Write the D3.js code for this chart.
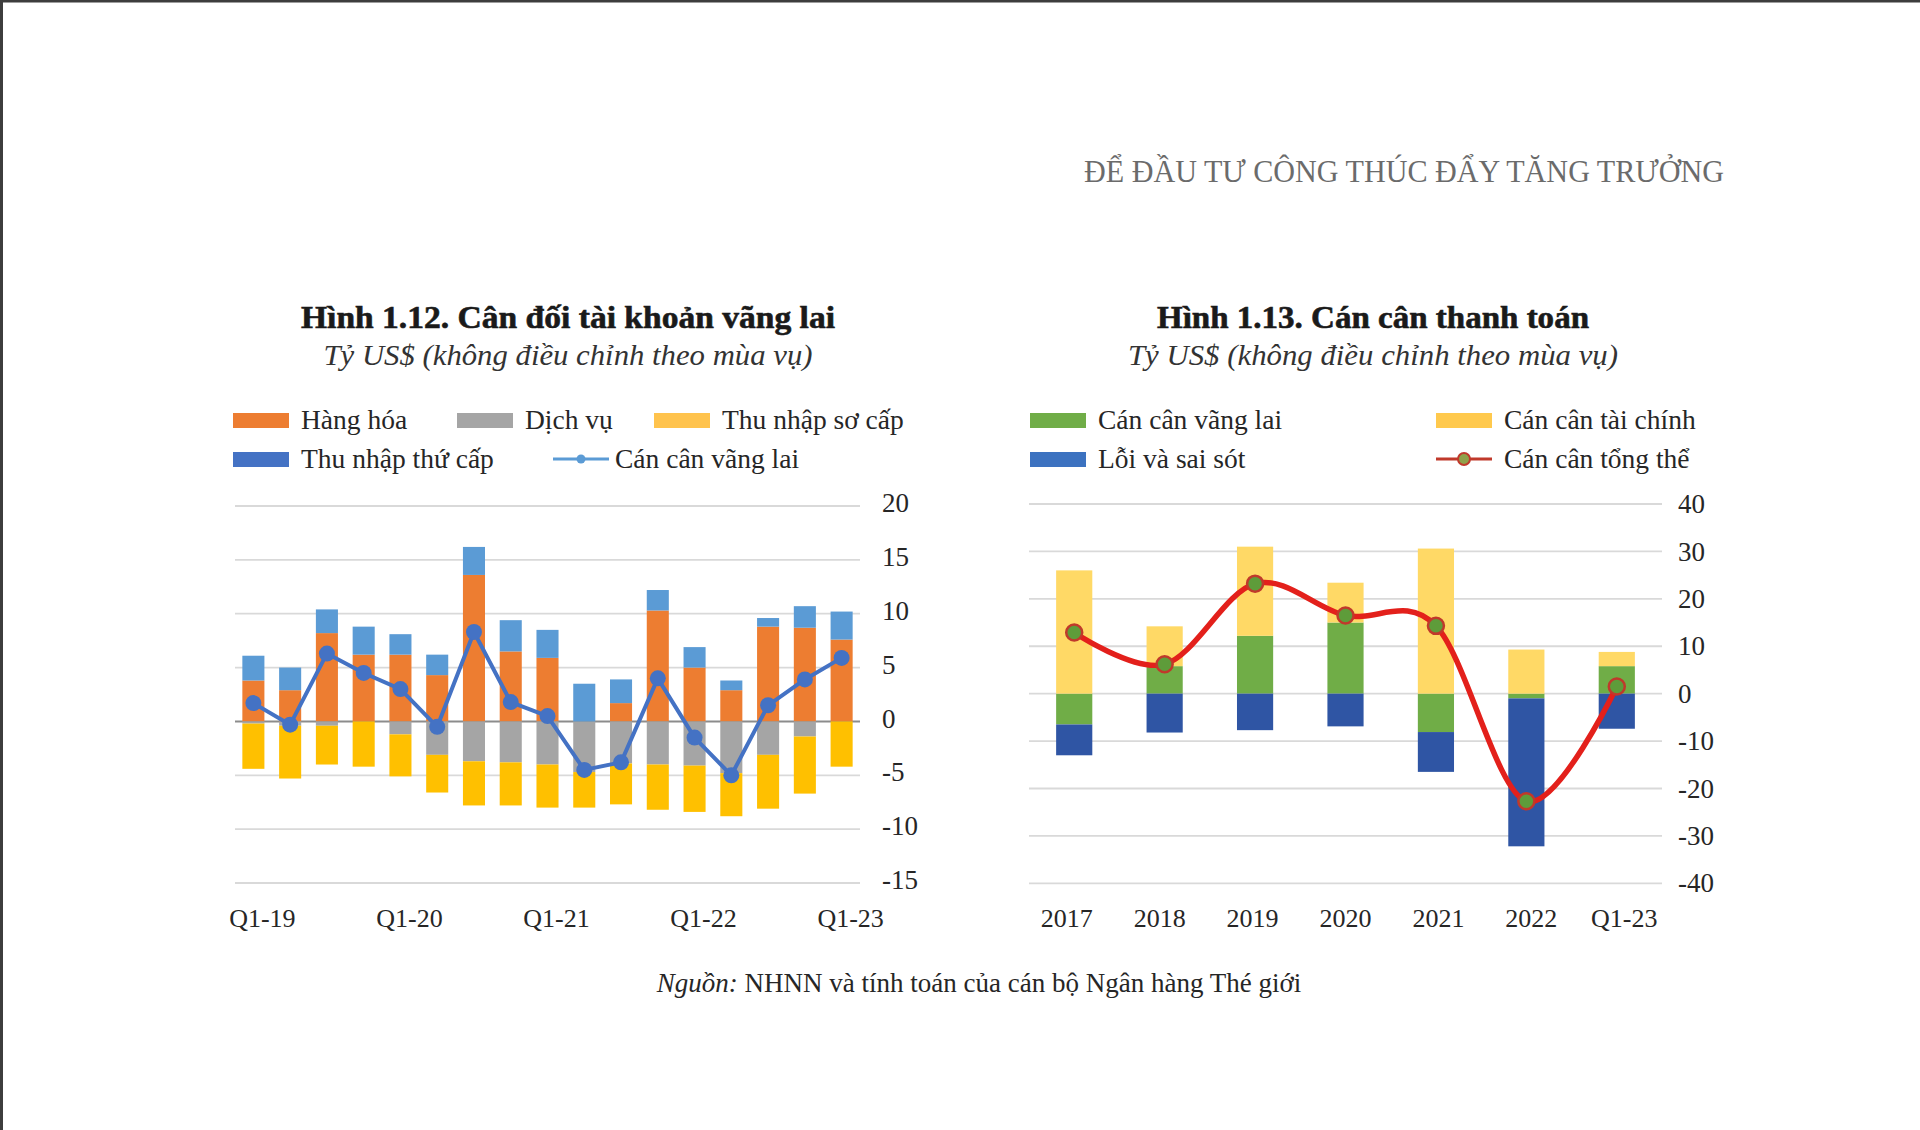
<!DOCTYPE html>
<html><head><meta charset="utf-8">
<script src="https://cdn.jsdelivr.net/npm/d3@7"></script>
<style>
html,body{margin:0;padding:0;background:#fff;}
svg{display:block;}
text{font-family:"Liberation Serif","DejaVu Serif",serif;fill:#262626;}
</style></head>
<body>
<svg id="c" width="1920" height="1130"></svg>
<script>
// ---------- Data: Hình 1.12 ----------
const quarters = ["Q1-19","Q2-19","Q3-19","Q4-19","Q1-20","Q2-20","Q3-20","Q4-20","Q1-21","Q2-21","Q3-21","Q4-21","Q1-22","Q2-22","Q3-22","Q4-22","Q1-23"];
const quarterTicks = ["Q1-19","Q1-20","Q1-21","Q1-22","Q1-23"];
const goods      = [3.8, 2.9, 8.2, 6.2, 6.2, 4.3, 13.6, 6.5, 5.9, 0.0, 1.7, 10.3, 5.0, 2.9, 8.8, 8.7, 7.6];
const services   = [-0.2, -0.4, -0.4, 0.0, -1.2, -3.1, -3.7, -3.8, -4.0, -4.7, -3.9, -4.0, -4.1, -4.8, -3.1, -1.4, 0.0];
const primaryInc = [-4.2, -4.9, -3.6, -4.2, -3.9, -3.5, -4.1, -4.0, -4.0, -3.3, -3.8, -4.2, -4.3, -4.0, -5.0, -5.3, -4.2];
const secondaryInc = [2.3, 2.1, 2.2, 2.6, 1.9, 1.9, 2.6, 2.9, 2.6, 3.5, 2.2, 1.9, 1.9, 0.9, 0.8, 2.0, 2.6];
const currentAccountQ = [1.7, -0.3, 6.3, 4.5, 3.0, -0.5, 8.3, 1.8, 0.5, -4.5, -3.8, 4.0, -1.5, -5.0, 1.5, 3.9, 5.9];
const leftTicks = [20, 15, 10, 5, 0, -5, -10, -15];

// ---------- Data: Hình 1.13 ----------
const periods = ["2017","2018","2019","2020","2021","2022","Q1-23"];
const currentAccountY = [-6.5, 5.8, 12.2, 15.0, -8.1, -1.0, 5.8];
const financialAcc    = [26.0, 8.4, 18.8, 8.4, 30.6, 9.3, 3.0];
const errorsOmissions = [-6.5, -8.2, -7.7, -6.9, -8.4, -31.2, -7.4];
const overallBalance  = [12.9, 6.2, 23.2, 16.5, 14.3, -22.7, 1.5];
const rightTicks = [40, 30, 20, 10, 0, -10, -20, -30, -40];

const svg = d3.select("#c");
const plain = d => String(d);

// page frame
svg.append("rect").attr("x",0).attr("y",0).attr("width",1920).attr("height",2.5).attr("fill","#3d3d3d");
svg.append("rect").attr("x",0).attr("y",0).attr("width",3).attr("height",1130).attr("fill","#3d3d3d");

// header
svg.append("text").attr("x",1724).attr("y",182).attr("text-anchor","end")
  .attr("font-size",31).style("fill","#6b6b6b")
  .attr("textLength",640).attr("lengthAdjust","spacingAndGlyphs")
  .text("ĐỂ ĐẦU TƯ CÔNG THÚC ĐẨY TĂNG TRƯỞNG");

function titles(g, cx, title, tw, sub, sw){
  g.append("text").attr("x",cx).attr("y",328).attr("text-anchor","middle")
    .attr("font-size",31).attr("font-weight","bold").style("fill","#1a1a1a")
    .style("stroke","#1a1a1a").style("stroke-width",0.6)
    .attr("textLength",tw).attr("lengthAdjust","spacingAndGlyphs")
    .text(title);
  g.append("text").attr("x",cx).attr("y",365).attr("text-anchor","middle")
    .attr("font-size",30).attr("font-style","italic").style("fill","#333")
    .attr("textLength",sw).attr("lengthAdjust","spacingAndGlyphs")
    .text(sub);
}

// =============== LEFT CHART ===============
(function(){
  const x = d3.scaleBand().domain(quarters).range([235, 860]).paddingInner(0.4).paddingOuter(0.2);
  const y = d3.scaleLinear().domain([-15, 20]).range([883, 506]);
  const keys = ["goods","services","primary","secondary"];
  const colors = {goods:"#ED7D31", services:"#A5A5A5", primary:"#FFC000", secondary:"#5B9BD5"};
  const rows = quarters.map((q,i)=>({q, goods:goods[i], services:services[i], primary:primaryInc[i], secondary:secondaryInc[i]}));
  const stack = d3.stack().keys(keys).offset(d3.stackOffsetDiverging)(rows);

  const g = svg.append("g");
  titles(g, 568, "Hình 1.12. Cân đối tài khoản vãng lai", 534, "Tỷ US$ (không điều chỉnh theo mùa vụ)", 489);

  const grid = g.append("g");
  grid.selectAll("line").data(leftTicks).join("line")
    .attr("x1",235).attr("x2",860)
    .attr("y1",d=>y(d)).attr("y2",d=>y(d))
    .attr("stroke",d=>d===0?"#8c8c8c":"#d9d9d9").attr("stroke-width",d=>d===0?2:1.8);
  const yAxis = d3.axisRight(y).tickValues(leftTicks).tickFormat(plain).tickSize(0).tickPadding(0);
  const ya = g.append("g").attr("transform","translate(882,-3)").call(yAxis);
  ya.select(".domain").remove();
  ya.selectAll("text").attr("font-size",27).attr("font-family","Liberation Serif").style("fill","#262626");

  g.append("g").selectAll("g").data(stack).join("g")
    .attr("fill",d=>colors[d.key])
    .selectAll("rect").data(d=>d).join("rect")
      .attr("x",d=>x(d.data.q)).attr("width",x.bandwidth())
      .attr("y",d=>y(Math.max(d[0],d[1])))
      .attr("height",d=>Math.abs(y(d[0])-y(d[1])));

  const line = d3.line().x((d,i)=>x(quarters[i])+x.bandwidth()/2).y(d=>y(d));
  g.append("path").datum(currentAccountQ).attr("d",line)
    .attr("fill","none").attr("stroke","#4472C4").attr("stroke-width",4).attr("stroke-linejoin","round");
  g.append("g").selectAll("circle").data(currentAccountQ).join("circle")
    .attr("cx",(d,i)=>x(quarters[i])+x.bandwidth()/2).attr("cy",d=>y(d)).attr("r",8)
    .attr("fill","#4472C4");

  const xAxis = d3.axisBottom(x).tickValues(quarterTicks).tickSize(0).tickPadding(0);
  const xa = g.append("g").attr("transform","translate(9,909)").call(xAxis);
  xa.select(".domain").remove();
  xa.selectAll("text").attr("font-size",26).attr("font-family","Liberation Serif").style("fill","#262626");

  const leg = [
    {t:"Hàng hóa", c:"#ED7D31", x:233, y:420, type:"rect"},
    {t:"Dịch vụ", c:"#A5A5A5", x:457, y:420, type:"rect"},
    {t:"Thu nhập sơ cấp", c:"#FFC34D", x:654, y:420, type:"rect"},
    {t:"Thu nhập thứ cấp", c:"#4472C4", x:233, y:459, type:"rect"},
    {t:"Cán cân vãng lai", c:"#5B9BD5", x:553, y:459, type:"line"}
  ];
  leg.forEach(l=>{
    if(l.type==="rect"){
      g.append("rect").attr("x",l.x).attr("y",l.y-7).attr("width",56).attr("height",15).attr("fill",l.c);
    } else {
      g.append("line").attr("x1",l.x).attr("x2",l.x+56).attr("y1",l.y).attr("y2",l.y).attr("stroke",l.c).attr("stroke-width",3);
      g.append("circle").attr("cx",l.x+28).attr("cy",l.y).attr("r",4.5).attr("fill",l.c);
    }
    g.append("text").attr("x",l.x+(l.type==="rect"?68:62)).attr("y",l.y+9).attr("font-size",27.5).text(l.t);
  });
})();

// =============== RIGHT CHART ===============
(function(){
  const x = d3.scaleBand().domain(periods).range([1029, 1662]).paddingInner(0.6).paddingOuter(0.3);
  const y = d3.scaleLinear().domain([-40, 40]).range([883.3, 504]);
  const keys = ["ca","fa","eo"];
  const colors = {ca:"#70AD47", fa:"#FFD966", eo:"#2F55A4"};
  const rows = periods.map((p,i)=>({p, ca:currentAccountY[i], fa:financialAcc[i], eo:errorsOmissions[i]}));
  const stack = d3.stack().keys(keys).offset(d3.stackOffsetDiverging)(rows);

  const g = svg.append("g");
  titles(g, 1373, "Hình 1.13. Cán cân thanh toán", 432, "Tỷ US$ (không điều chỉnh theo mùa vụ)", 490);

  g.append("g").selectAll("line").data(rightTicks).join("line")
    .attr("x1",1029).attr("x2",1662)
    .attr("y1",d=>y(d)).attr("y2",d=>y(d))
    .attr("stroke","#d9d9d9").attr("stroke-width",1.8);
  const yAxis = d3.axisRight(y).tickValues(rightTicks).tickFormat(plain).tickSize(0).tickPadding(0);
  const ya = g.append("g").attr("transform","translate(1678,0)").call(yAxis);
  ya.select(".domain").remove();
  ya.selectAll("text").attr("font-size",27).attr("font-family","Liberation Serif").style("fill","#262626");

  g.append("g").selectAll("g").data(stack).join("g")
    .attr("fill",d=>colors[d.key])
    .selectAll("rect").data(d=>d).join("rect")
      .attr("x",d=>x(d.data.p)).attr("width",x.bandwidth())
      .attr("y",d=>y(Math.max(d[0],d[1])))
      .attr("height",d=>Math.abs(y(d[0])-y(d[1])));

  const line = d3.line().curve(d3.curveCardinal.tension(0))
    .x((d,i)=>x(periods[i])+x.bandwidth()/2).y(d=>y(d));
  g.append("path").datum(overallBalance).attr("d",line)
    .attr("fill","none").attr("stroke","#E3201B").attr("stroke-width",5.5).attr("stroke-linecap","round");
  g.append("g").selectAll("circle").data(overallBalance).join("circle")
    .attr("cx",(d,i)=>x(periods[i])+x.bandwidth()/2).attr("cy",d=>y(d)).attr("r",8)
    .attr("fill","#5E9C3A").attr("stroke","#C0392B").attr("stroke-width",2.5);

  const xAxis = d3.axisBottom(x).tickSize(0).tickPadding(0);
  const xa = g.append("g").attr("transform","translate(0,909)").call(xAxis);
  xa.select(".domain").remove();
  xa.selectAll("text").attr("font-size",26).attr("font-family","Liberation Serif").style("fill","#262626")
    .attr("dx",(d,i)=>(i-3)*2.5);

  const leg = [
    {t:"Cán cân vãng lai", c:"#70AD47", x:1030, y:420, type:"rect"},
    {t:"Cán cân tài chính", c:"#FFC94D", x:1436, y:420, type:"rect"},
    {t:"Lỗi và sai sót", c:"#3C72C0", x:1030, y:459, type:"rect"},
    {t:"Cán cân tổng thể", c:"#C0392B", x:1436, y:459, type:"line"}
  ];
  leg.forEach(l=>{
    if(l.type==="rect"){
      g.append("rect").attr("x",l.x).attr("y",l.y-7).attr("width",56).attr("height",15).attr("fill",l.c);
    } else {
      g.append("line").attr("x1",l.x).attr("x2",l.x+56).attr("y1",l.y).attr("y2",l.y).attr("stroke","#C0392B").attr("stroke-width",3);
      g.append("circle").attr("cx",l.x+28).attr("cy",l.y).attr("r",6).attr("fill","#8FA14A").attr("stroke","#C0392B").attr("stroke-width",2);
    }
    g.append("text").attr("x",l.x+68).attr("y",l.y+9).attr("font-size",27.5).text(l.t);
  });
})();

// source
const src = svg.append("text").attr("x",979).attr("y",992).attr("text-anchor","middle").attr("font-size",27).style("fill","#262626");
src.append("tspan").attr("font-style","italic").text("Nguồn:");
src.append("tspan").text(" NHNN và tính toán của cán bộ Ngân hàng Thé giới");
</script>
</body></html>
